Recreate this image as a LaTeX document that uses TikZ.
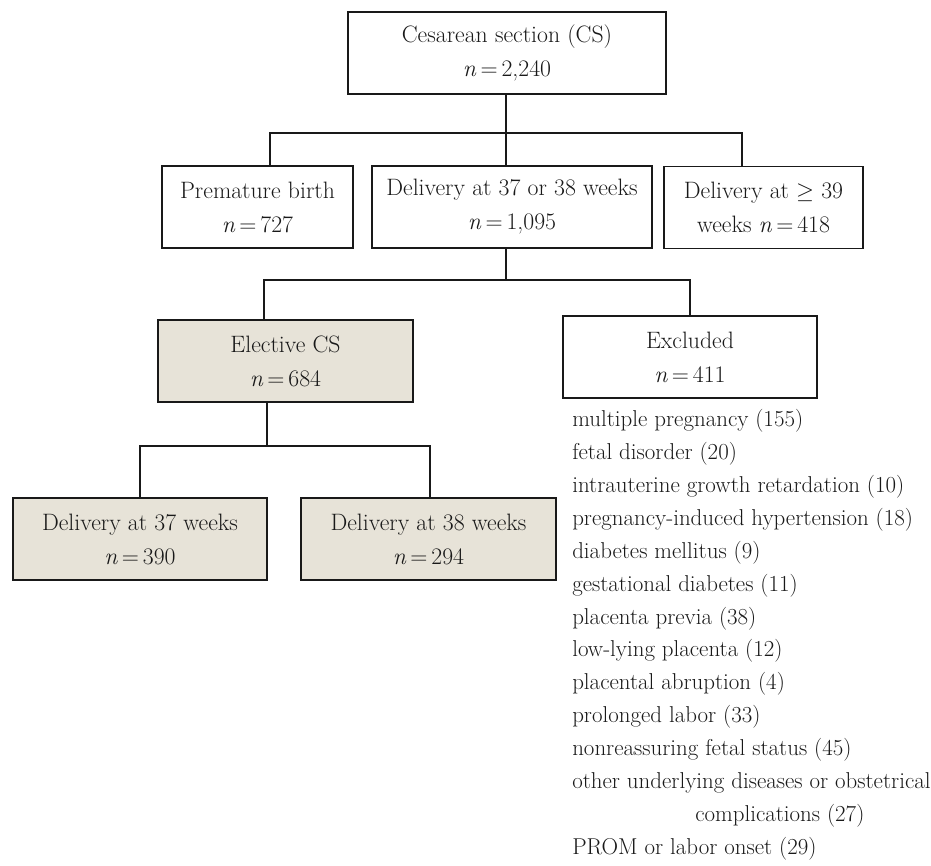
\documentclass[tikz,border=0pt]{standalone}
\usepackage{fontspec}
\definecolor{boxfill}{RGB}{231,227,216}
\definecolor{ink}{RGB}{25,25,25}
\newcommand{\nn}{\textit{n}\,=\,}
\begin{document}
\begin{tikzpicture}[x=0.75pt,y=-0.75pt,
  box/.style={draw=ink, line width=0.9pt, inner sep=0pt, align=center, text=ink,
    minimum height=61.5pt, font=\fontsize{17.8pt}{25.5pt}\selectfont},
  shaded/.style={box, fill=boxfill},
  conn/.style={draw=ink, line width=0.9pt},
  listitem/.style={anchor=west, inner sep=0pt, text=ink,
    font=\fontsize{17.2pt}{24pt}\selectfont, text height=12pt, text depth=3.5pt}]
\useasboundingbox (0,0) rectangle (931,865);

% boxes
\node[box, minimum width=238.5pt] (cs) at (507,53) {Cesarean section (CS)\\\nn 2,240};
\node[box, minimum width=143.25pt] (pb) at (257.5,207) {Premature birth\\\nn 727};
\node[box, minimum width=210pt] (dmid) at (512,207) {Delivery at 37 or 38 weeks\\\nn 1,095};
\node[box, minimum width=149.25pt] (dlate) at (763.5,207.5) {Delivery at $\geq$ 39\\weeks \nn 418};
\node[shaded, minimum width=191.25pt] (el) at (285.5,361) {Elective CS\\\nn 684};
\node[box, minimum width=190.5pt] (ex) at (690,357) {Excluded\\\nn 411};
\node[shaded, minimum width=190.5pt] (dA) at (140,539) {Delivery at 37 weeks\\\nn 390};
\node[shaded, minimum width=191.25pt] (dB) at (428.5,539) {Delivery at 38 weeks\\\nn 294};

% junctions
\coordinate (j1) at (506,133);
\coordinate (j1l) at (270,133);
\coordinate (j1r) at (742,133);
\coordinate (j2) at (506,280);
\coordinate (j2l) at (264,280);
\coordinate (j2r) at (690,280);
\coordinate (j3) at (267,446);
\coordinate (j3l) at (140,446);
\coordinate (j3r) at (430,446);

% connectors
\draw[conn] (cs.south -| j1) -- (j1);
\draw[conn] (j1l |- pb.north) -- (j1l) -- (j1r) -- (j1r |- dlate.north);
\draw[conn] (j1) -- (j1 |- dmid.north);

\draw[conn] (dmid.south -| j2) -- (j2);
\draw[conn] (j2l |- el.north) -- (j2l) -- (j2r) -- (j2r |- ex.north);

\draw[conn] (el.south -| j3) -- (j3);
\draw[conn] (j3l |- dA.north) -- (j3l) -- (j3r) -- (j3r |- dB.north);

% exclusion list
\node[listitem] (l1) at (572,421) {multiple pregnancy (155)};
\node[listitem] (l2) at (572,454) {fetal disorder (20)};
\node[listitem] (l3) at (572,487) {intrauterine growth retardation (10)};
\node[listitem] (l4) at (572,520) {pregnancy-induced hypertension (18)};
\node[listitem] (l5) at (572,553) {diabetes mellitus (9)};
\node[listitem] (l6) at (572,586) {gestational diabetes (11)};
\node[listitem] (l7) at (572,619) {placenta previa (38)};
\node[listitem] (l8) at (572,651) {low-lying placenta (12)};
\node[listitem] (l9) at (572,684) {placental abruption (4)};
\node[listitem] (l10) at (572,717) {prolonged labor (33)};
\node[listitem] (l11) at (572,750) {nonreassuring fetal status (45)};
\node[listitem] (l12) at (572,783) {other underlying diseases or obstetrical};
\node[listitem] (l13) at (695,816) {complications (27)};
\node[listitem] (l14) at (572,849) {PROM or labor onset (29)};
\end{tikzpicture}
\end{document}
